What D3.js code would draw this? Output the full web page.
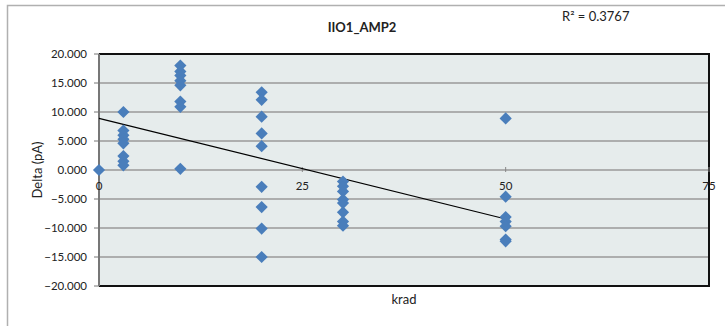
<!DOCTYPE html>
<html>
<head>
<meta charset="utf-8">
<script src="https://cdn.jsdelivr.net/npm/d3@7"></script>
<style>
body { margin: 0; background: #fff; }
text { font-family: Lato, "Open Sans", sans-serif; fill: #222; }
</style>
</head>
<body>
<div id="canvas"></div>
<script>
// data
var kradX = [0, 3, 3, 3, 3, 3, 3, 3, 3,
	10, 10, 10, 10, 10, 10, 10, 10,
	20, 20, 20, 20, 20, 20, 20, 20, 20,
	30, 30, 30, 30, 30, 30, 30, 30,
	50, 50, 50, 50, 50, 50, 50];
var deltaY = [0, 10.0, 6.8, 6.0, 5.3, 4.6, 2.4, 1.5, 0.8,
	18.0, 17.0, 16.3, 15.4, 14.6, 11.8, 10.9, 0.2,
	13.4, 12.1, 9.2, 6.3, 4.1, -2.9, -6.4, -10.1, -15.0,
	-2.0, -2.8, -3.7, -5.1, -5.7, -7.3, -8.9, -9.6,
	8.9, -4.6, -8.1, -8.9, -9.7, -12.0, -12.3];
var xTicks = [0, 25, 50, 75];
var yTicks = [20, 15, 10, 5, 0, -5, -10, -15, -20];
var trendX = [0, 50];
var trendIntercept = 8.9, trendSlope = -0.347;
var rSquared = "R² = 0.3767";
var chartTitle = "IIO1_AMP2";

var w = 725, h = 326;
var paper = d3.select("#canvas").append("svg")
	.attr("width", w).attr("height", h);

// outer chart border (cropped)
paper.append("path")
	.attr("d", "M7.5," + h + "V5.5H" + w)
	.style("fill", "none").style("stroke", "#b0b0b0").style("stroke-width", "1.5px");

var pLeft = 99, pRight = 709, pTop = 54, pBottom = 286;
var x = d3.scaleLinear().domain([0, 75]).range([pLeft, pRight]);
var y = d3.scaleLinear().domain([-20, 20]).range([pBottom, pTop]);

// plot area
paper.append("rect")
	.attr("x", pLeft).attr("y", pTop)
	.attr("width", pRight - pLeft).attr("height", pBottom - pTop)
	.style("fill", "#e6ecec");

// gridlines
paper.selectAll(".grid").data(yTicks.filter(function(d){ return d != 20 && d != -20; }))
	.enter().append("line")
	.attr("x1", pLeft).attr("x2", pRight)
	.attr("y1", function(d){ return y(d); })
	.attr("y2", function(d){ return y(d); })
	.style("stroke", "#9a9a9a").style("stroke-width", "1.5px");

// plot border
paper.append("path")
	.attr("d", "M" + pLeft + "," + pTop + "H" + pRight + "V" + pBottom + "H" + pLeft)
	.style("fill", "none").style("stroke", "#111").style("stroke-width", "2px");

// y axis
paper.append("line")
	.attr("x1", pLeft).attr("x2", pLeft).attr("y1", pTop).attr("y2", pBottom)
	.style("stroke", "#777").style("stroke-width", "2px");
paper.selectAll(".ytick").data(yTicks).enter().append("line")
	.attr("x1", pLeft - 5).attr("x2", pLeft)
	.attr("y1", function(d){ return y(d); })
	.attr("y2", function(d){ return y(d); })
	.style("stroke", "#777").style("stroke-width", "1px");
paper.selectAll(".ylab").data(yTicks).enter().append("text")
	.attr("x", pLeft - 12)
	.attr("y", function(d){ return y(d) + 4; })
	.attr("text-anchor", "end")
	.style("font-size", "11.5px")
	.text(function(d){ return d3.format(".3f")(d); });

// x axis on the zero line
paper.selectAll(".xtick").data(xTicks).enter().append("line")
	.attr("x1", function(d){ return x(d); })
	.attr("x2", function(d){ return x(d); })
	.attr("y1", y(0) - 3).attr("y2", y(0) + 2)
	.style("stroke", "#888").style("stroke-width", "1px");
paper.selectAll(".xlab").data(xTicks).enter().append("text")
	.attr("x", function(d){ return x(d); })
	.attr("y", y(0) + 20)
	.attr("text-anchor", "middle")
	.style("font-size", "11.5px")
	.text(function(d){ return d; });

// trendline
paper.append("line")
	.attr("x1", x(trendX[0])).attr("x2", x(trendX[1]))
	.attr("y1", y(trendIntercept + trendSlope * trendX[0]))
	.attr("y2", y(trendIntercept + trendSlope * trendX[1]))
	.style("stroke", "#000").style("stroke-width", "1.2px");

// points
var diamond = d3.symbol().type(d3.symbolDiamond2).size(95);
paper.selectAll(".pt").data(kradX).enter().append("path")
	.attr("d", diamond)
	.attr("transform", function(d, i){ return "translate(" + x(d) + "," + y(deltaY[i]) + ")"; })
	.style("fill", "#4a7ebb");

// texts
paper.append("text").attr("x", 362).attr("y", 32)
	.attr("text-anchor", "middle")
	.style("font-size", "13px").style("font-weight", "bold")
	.text(chartTitle);
paper.append("text").attr("x", 562).attr("y", 21)
	.style("font-size", "13px")
	.text(rSquared);
paper.append("text").attr("x", 404).attr("y", 304)
	.attr("text-anchor", "middle")
	.style("font-size", "13px")
	.text("krad");
paper.append("text")
	.attr("transform", "translate(42,170) rotate(-90)")
	.attr("text-anchor", "middle")
	.style("font-size", "13px")
	.text("Delta (pA)");
</script>
</body>
</html>
